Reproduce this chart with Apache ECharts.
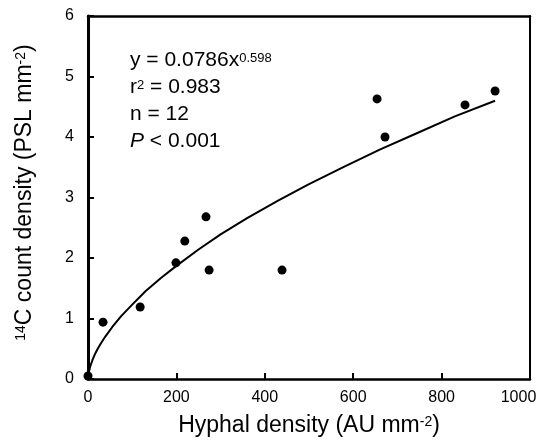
<!DOCTYPE html>
<html>
<head>
<meta charset="utf-8">
<script src="https://cdn.jsdelivr.net/npm/echarts@6/dist/echarts.min.js"></script>
<style>html,body{margin:0;padding:0;background:#fff;}#c{width:538px;height:441px;}</style>
</head>
<body>
<div id="c"></div>
<script>
// observed points (Hyphal density, 14C count density)
const obsX = [0, 34, 118, 199, 219, 267, 274, 439, 654, 672, 853, 921];
const obsY = [0.05, 0.94, 1.19, 1.92, 2.28, 2.68, 1.80, 1.80, 4.63, 4.00, 4.53, 4.76];
// fitted curve
const fitX = [0, 1, 3, 6, 10, 15, 22, 30, 40, 55, 75, 100, 130, 165, 200, 250, 300, 360, 430, 500, 580, 660, 740, 830, 921];
const fitY = [0.0, 0.08, 0.15, 0.23, 0.31, 0.40, 0.50, 0.60, 0.71, 0.86, 1.04, 1.23, 1.45, 1.67, 1.87, 2.14, 2.39, 2.66, 2.95, 3.22, 3.51, 3.79, 4.05, 4.34, 4.60];
// axis ticks
const xTicks = [0, 200, 400, 600, 800, 1000];
const yTicks = [0, 1, 2, 3, 4, 5, 6];

const FONT = '"Liberation Sans", Arial, Helvetica, sans-serif';
const chart = echarts.init(document.getElementById('c'), null, {renderer: 'canvas'});
const obs = obsX.map((x, i) => [x, obsY[i]]);
const fit = fitX.map((x, i) => [x, fitY[i]]);

const nameRich = {
  t: {fontSize: 23, fontFamily: FONT, color: '#000', lineHeight: 26},
  s: {fontSize: 14, fontFamily: FONT, color: '#000', verticalAlign: 'top', lineHeight: 14, padding: [2, 0, 0, 0]}
};

chart.setOption({
  animation: false,
  backgroundColor: '#fff',
  grid: {left: 88, right: 8, top: 16, bottom: 62, outerBoundsMode: 'none', containLabel: false, show: false},
  xAxis: [{
    type: 'value', min: xTicks[0], max: xTicks[xTicks.length - 1], interval: 200,
    axisLine: {show: true, onZero: false, lineStyle: {color: '#000', width: 2.5}},
    axisTick: {show: true, inside: true, length: 6, lineStyle: {color: '#000', width: 2}},
    splitLine: {show: false},
    axisLabel: {color: '#000', fontSize: 16, fontFamily: FONT, margin: 11,
      formatter: v => (v === xTicks[xTicks.length - 1] ? '{r|' + v + '}' : String(v)),
      rich: {r: {fontSize: 16, fontFamily: FONT, color: '#000', padding: [0, 23, 0, 0]}}},
    name: '{t|Hyphal density (AU mm}{s|-2}{t|)}',
    nameLocation: 'middle', nameGap: 34,
    nameTextStyle: {rich: nameRich}
  }, {
    type: 'value', position: 'top', min: xTicks[0], max: xTicks[xTicks.length - 1], interval: 200,
    axisLine: {show: true, onZero: false, lineStyle: {color: '#000', width: 2.5}},
    axisTick: {show: false}, axisLabel: {show: false}, splitLine: {show: false}
  }],
  yAxis: [{
    type: 'value', min: yTicks[0], max: yTicks[yTicks.length - 1], interval: 1,
    axisLine: {show: true, onZero: false, lineStyle: {color: '#000', width: 3}},
    axisTick: {show: true, inside: true, length: 6, lineStyle: {color: '#000', width: 2}},
    splitLine: {show: false},
    axisLabel: {color: '#000', fontSize: 16, fontFamily: FONT, margin: 14},
    name: '{s|14}{t|C count density (PSL mm}{s|-2}{t|)}',
    nameLocation: 'middle', nameRotate: 90, nameGap: 50,
    nameTextStyle: {padding: [0, 0, 0, 10], rich: nameRich}
  }, {
    type: 'value', position: 'right', min: yTicks[0], max: yTicks[yTicks.length - 1], interval: 1,
    axisLine: {show: true, onZero: false, lineStyle: {color: '#000', width: 2}},
    axisTick: {show: false}, axisLabel: {show: false}, splitLine: {show: false}
  }],
  graphic: [{
    type: 'text', left: 130, top: 47, z: 10,
    style: {
      text: '{t|y = 0.0786x}{s|0.598}\n{t|r}{s|2}{t| = 0.983}\n{t|n = 12}\n{i|P}{t| < 0.001}',
      fill: '#000',
      rich: {
        t: {fontSize: 21, fontFamily: FONT, fill: '#000', lineHeight: 27},
        i: {fontSize: 21, fontFamily: FONT, fontStyle: 'italic', fill: '#000', lineHeight: 27},
        s: {fontSize: 13, fontFamily: FONT, fill: '#000', lineHeight: 13, verticalAlign: 'top', padding: [5, 0, 0, 0]}
      }
    }
  }],
  series: [
    {type: 'line', data: fit, smooth: false, symbol: 'none', lineStyle: {color: '#000', width: 2}, z: 3},
    {type: 'scatter', data: obs, symbol: 'circle', symbolSize: 9, itemStyle: {color: '#000', opacity: 1}, z: 4}
  ]
});
</script>
</body>
</html>
